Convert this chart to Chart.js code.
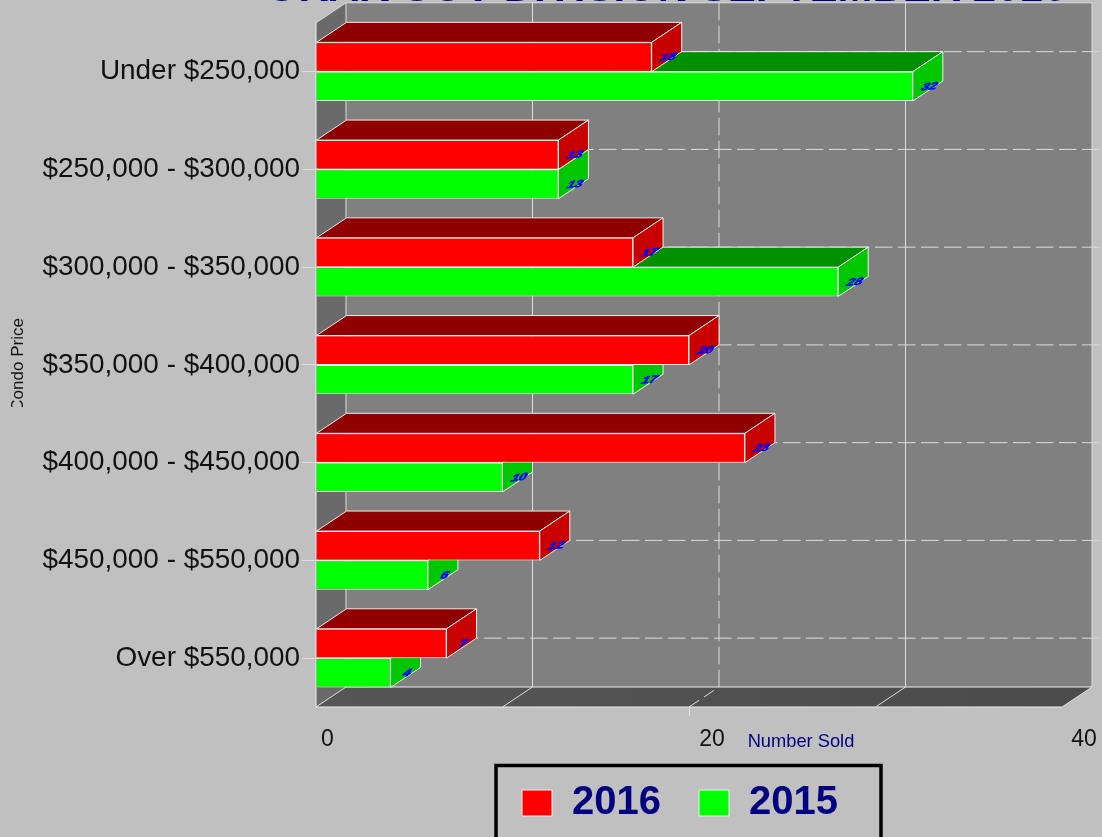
<!DOCTYPE html>
<html>
<head>
<meta charset="utf-8">
<style>html,body{margin:0;padding:0;background:#c0c0c0;overflow:hidden}canvas{display:block}</style>
<script src="https://cdn.jsdelivr.net/npm/chart.js@4"></script>
</head>
<body>
<canvas id="c" width="1102" height="837"></canvas>
<script>
const categories = ['Under $250,000','$250,000 - $300,000','$300,000 - $350,000','$350,000 - $400,000','$400,000 - $450,000','$450,000 - $550,000','Over $550,000'];
const sold2016 = [18,13,17,20,23,12,7];
const sold2015 = [32,13,28,17,10,6,4];
const titleText = 'ORAK COV DIVISION SEPTEMBER 2016';
const FONT = '"Liberation Sans", Arial, sans-serif';

const DX = 30, DY = -20;
const EDGE = '#eeeeee';
const GRID = '#dcdcdc';
const LEGEND_SHIFT = -9;
const faces = {
  '2016': {top:'#900000', side:'#c80000'},
  '2015': {top:'#009000', side:'#00c800'}
};

function poly(ctx, pts, fill, stroke){
  ctx.beginPath();
  pts.forEach((p,i)=> i ? ctx.lineTo(p[0],p[1]) : ctx.moveTo(p[0],p[1]));
  ctx.closePath();
  if (fill){ ctx.fillStyle = fill; ctx.fill(); }
  if (stroke){ ctx.strokeStyle = stroke; ctx.lineWidth = 1; ctx.stroke(); }
}
function seg(ctx, x1,y1,x2,y2, color, dash){
  ctx.save();
  ctx.strokeStyle = color; ctx.lineWidth = 1;
  ctx.setLineDash(dash || []);
  ctx.beginPath(); ctx.moveTo(x1,y1); ctx.lineTo(x2,y2); ctx.stroke();
  ctx.restore();
}
function shift(obj, method, dx, clip){
  const orig = obj[method];
  obj[method] = function(...args){
    const ctx = this.ctx;
    ctx.save();
    if (clip){ ctx.beginPath(); ctx.rect(clip[0],clip[1],clip[2],clip[3]); ctx.clip(); }
    ctx.translate(dx,0);
    orig.apply(this,args);
    ctx.restore();
  };
}

const pseudo3d = {
  id:'pseudo3d',
  beforeDraw(chart){
    const {ctx, chartArea:a, scales:{x,y}} = chart;
    if (!chart.$patched){
      chart.$patched = true;
      shift(chart.titleBlock,'draw',135);
      shift(chart.legend,'draw',LEGEND_SHIFT);
      shift(x,'drawTitle',112);
      shift(y,'drawTitle',0,[0,300,60,107]);
      x._computeLabelArea = () => null;
    }
    // horizontal tick-label nudges as in the source chart
    const nudge = {'0':11.5,'20':23,'40':22};
    x.getLabelItems().forEach(it=>{
      if (!it.$n && nudge[it.label]!==undefined){ it.options.translation[0] += nudge[it.label]; it.$n = true; }
    });
    const L=a.left,R=a.right,T=a.top,B=a.bottom;
    ctx.save();
    // back wall
    poly(ctx,[[L+DX,T+DY],[R+DX,T+DY],[R+DX,B+DY],[L+DX,B+DY]],'#808080');
    // left wall
    poly(ctx,[[L,T],[L+DX,T+DY],[L+DX,B+DY],[L,B]],'#6a6a6a');
    // floor
    const g = ctx.createLinearGradient(L,0,R,0);
    g.addColorStop(0,'#565656'); g.addColorStop(1,'#4b4b4b');
    poly(ctx,[[L,B],[L+DX,B+DY],[R+DX,B+DY],[R,B]],g);
    // grid on the walls and floor
    const dash=[17.5,5.5];
    y.ticks.forEach((t,i)=>{
      const py = y.getPixelForTick(i)+DY;
      seg(ctx,L+DX,py,1102,py,GRID,dash);
    });
    x.ticks.forEach(t=>{
      const px = x.getPixelForValue(t.value);
      const d = t.value===20 ? dash : null;
      seg(ctx,px+DX,T+DY,px+DX,B+DY,GRID,d);
      seg(ctx,px,B,px+DX,B+DY,GRID,t.value===20?[12,6]:null);
    });
    // edges
    seg(ctx,L+DX,T+DY,R+DX,T+DY,GRID);
    seg(ctx,L+DX,B+DY,R+DX,B+DY,EDGE);
    seg(ctx,L,T,L+DX,T+DY,GRID);
    seg(ctx,L,T,L,B,EDGE);
    seg(ctx,L,B,R,B,EDGE);
    ctx.restore();
  },
  beforeDatasetDraw(chart,args){
    const {ctx} = chart;
    const meta = chart.getDatasetMeta(args.index);
    const c = faces[chart.data.datasets[args.index].label];
    ctx.save();
    meta.data.forEach(el=>{
      const {x,y,base,height} = el.getProps(['x','y','base','height'],true);
      const t=y-height/2, b=y+height/2;
      poly(ctx,[[base,t],[x,t],[x+DX,t+DY],[base+DX,t+DY]],c.top,EDGE);
      poly(ctx,[[x,t],[x+DX,t+DY],[x+DX,b+DY],[x,b]],c.side,EDGE);
    });
    ctx.restore();
  },
  afterDatasetsDraw(chart){
    const {ctx} = chart;
    ctx.save();
    ctx.fillStyle='#0000ff';
    ctx.strokeStyle='#0000ff';
    ctx.lineWidth=0.7;
    ctx.font='italic bold 12px '+FONT;
    ctx.textAlign='center';
    ctx.textBaseline='middle';
    chart.data.datasets.forEach((ds,di)=>{
      chart.getDatasetMeta(di).data.forEach((el,i)=>{
        const {x,y} = el.getProps(['x','y'],true);
        ctx.save();
        ctx.translate(x+16.5,y+0.5);
        ctx.transform(1.15,-0.12,-0.35,0.85,0,0);
        ctx.fillText(String(ds.data[i]),0,0);
        ctx.strokeText(String(ds.data[i]),0,0);
        ctx.restore();
      });
    });
    ctx.restore();
  },
  afterDraw(chart){
    const {ctx} = chart;
    const hb = chart.legend.legendHitBoxes;
    const last = hb[hb.length-1];
    const left = hb[0].left+LEGEND_SHIFT-26, right = last.left+LEGEND_SHIFT+last.width+43;
    ctx.save();
    ctx.strokeStyle='#000';
    ctx.lineWidth=3.5;
    ctx.strokeRect(left,765.5,right-left,120);
    ctx.restore();
  }
};

new Chart(document.getElementById('c'),{
  type:'bar',
  data:{
    labels:categories,
    datasets:[
      {label:'2016',data:sold2016,backgroundColor:'#ff0000',borderColor:EDGE,borderWidth:1,categoryPercentage:0.6,barPercentage:1},
      {label:'2015',data:sold2015,backgroundColor:'#00ff00',borderColor:EDGE,borderWidth:1,categoryPercentage:0.6,barPercentage:1}
    ]
  },
  plugins:[pseudo3d],
  options:{
    indexAxis:'y',
    responsive:false,
    animation:false,
    layout:{padding:{left:0,right:40,top:0,bottom:4}},
    plugins:{
      tooltip:{enabled:false},
      title:{display:true,text:titleText,color:'#000080',
        font:{family:FONT,size:42,weight:'bold'},
        padding:{top:-35.7,bottom:8.1}},
      legend:{display:true,position:'bottom',fullSize:false,
        labels:{boxWidth:30,boxHeight:26,padding:38,color:'#000080',
          font:{family:FONT,size:40,weight:'bold'}}}
    },
    scales:{
      x:{type:'linear',position:'bottom',min:0,max:40,
        afterFit(s){s.height=38;},
        border:{display:false},
        grid:{drawOnChartArea:false,drawTicks:true,tickLength:9,
          color:c=>c.tick&&c.tick.value===20?GRID:'transparent'},
        ticks:{stepSize:10,autoSkip:false,maxRotation:0,padding:10,color:'#111',
          font:{family:FONT,size:23},
          callback:v=>v%20===0?String(v):''},
        title:{display:true,text:'Number Sold',color:'#000080',
          font:{family:FONT,size:18.3},padding:{top:0,bottom:-8}}
      },
      y:{type:'category',
        afterFit(s){s.width=316;},
        border:{display:false},
        grid:{offset:false,drawOnChartArea:false,drawTicks:true,tickLength:14,color:'#dddddd'},
        ticks:{padding:2,color:'#111',font:{family:FONT,size:27.9},autoSkip:false},
        title:{display:true,text:'Condo Price',color:'#111',
          font:{family:FONT,size:17},padding:{top:8,bottom:0}}
      }
    }
  }
});
</script>
</body>
</html>
